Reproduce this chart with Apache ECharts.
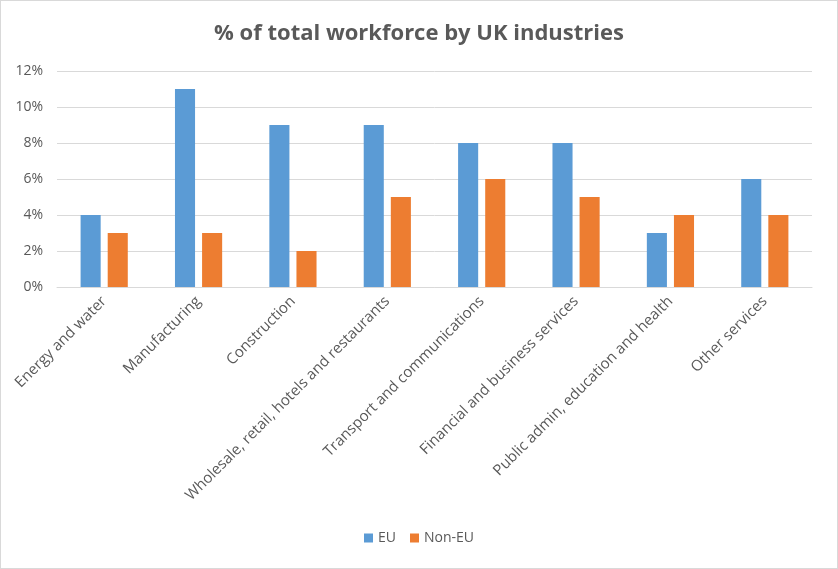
<!DOCTYPE html>
<html><head><meta charset="utf-8">
<script src="https://cdn.jsdelivr.net/npm/echarts@6/dist/echarts.min.js"></script>
<style>html,body{margin:0;padding:0;background:#fff}#c{width:836px;height:567px;border:1px solid #d9d9d9}</style>
</head><body><div id="c"></div>
<script>
const categories = ["Energy and water","Manufacturing","Construction","Wholesale, retail, hotels and restaurants","Transport and communications","Financial and business services","Public admin, education and health","Other services"];
const euValues = [4, 11, 9, 9, 8, 8, 3, 6];
const nonEuValues = [3, 3, 2, 5, 6, 5, 4, 4];
const chart = echarts.init(document.getElementById('c'));
const font = '"Open Sans", "Noto Sans", sans-serif';
chart.setOption({
  animation: false,
  title: {text: '% of total workforce by UK industries', left: 'center', top: 17,
    textStyle: {fontFamily: font, fontSize: 22, fontWeight: 'bold', color: '#595959'}},
  grid: {left: 56, right: 25, top: 70, bottom: 281, containLabel: false},
  legend: {bottom: 18, left: 'center', itemWidth: 9, itemHeight: 9, itemGap: 14, icon: 'rect',
    textStyle: {fontFamily: font, fontSize: 14, color: '#595959'}},
  xAxis: {type: 'category', data: categories,
    axisLine: {lineStyle: {color: '#d9d9d9'}}, axisTick: {show: false},
    axisLabel: {rotate: 45, interval: 0, fontFamily: font, fontSize: 15, color: '#595959', margin: 12}},
  yAxis: {type: 'value', min: 0, max: 12, interval: 2,
    axisLabel: {formatter: '{value}%', fontFamily: font, fontSize: 14, color: '#595959', margin: 14},
    splitLine: {lineStyle: {color: '#d9d9d9'}}, axisLine: {show: false}, axisTick: {show: false}},
  series: [
    {name: 'EU', type: 'bar', data: euValues, itemStyle: {color: '#5B9BD5'}, barGap: '35%', barCategoryGap: '50%'},
    {name: 'Non-EU', type: 'bar', data: nonEuValues, itemStyle: {color: '#ED7D31'}}
  ]
});
</script></body></html>
